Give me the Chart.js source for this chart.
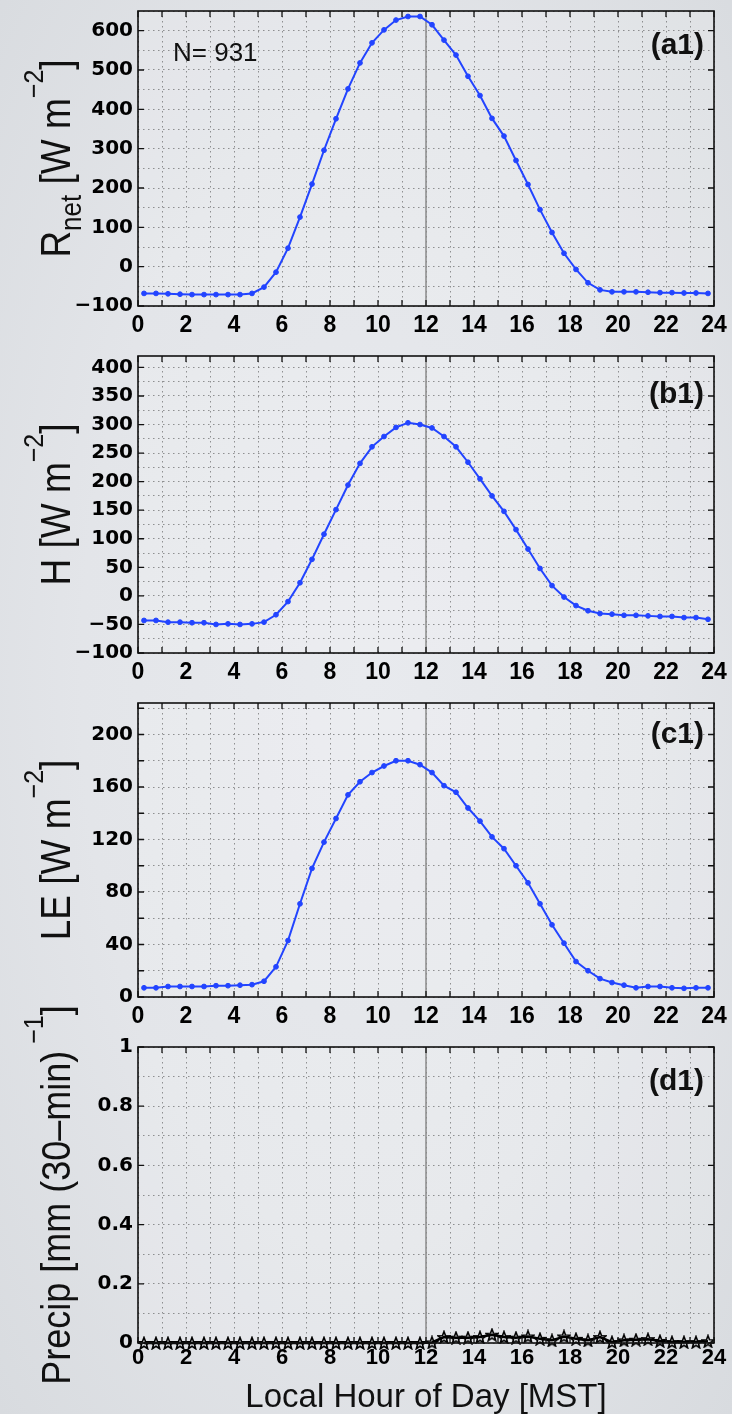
<!DOCTYPE html>
<html>
<head>
<meta charset="utf-8">
<script src="https://cdn.jsdelivr.net/npm/chart.js@4.4.0/dist/chart.umd.min.js"></script>
<style>
html,body{margin:0;padding:0;}
body{width:732px;height:1414px;overflow:hidden;position:relative;
  background:radial-gradient(ellipse at 50% 48%, #e8eaee 0%, #e3e5e9 55%, #d8dbdf 100%);}
.p{position:absolute;left:0;width:732px;}
</style>
</head>
<body>
<div class="p" style="top:0px;height:345px"><canvas id="ca"></canvas></div>
<div class="p" style="top:345px;height:347px"><canvas id="cb"></canvas></div>
<div class="p" style="top:692px;height:344px"><canvas id="cc"></canvas></div>
<div class="p" style="top:990px;height:424px"><canvas id="cd"></canvas></div>
<script>
// ---------------- DATA ----------------
const hours = [0.25,0.75,1.25,1.75,2.25,2.75,3.25,3.75,4.25,4.75,5.25,5.75,6.25,6.75,7.25,7.75,
  8.25,8.75,9.25,9.75,10.25,10.75,11.25,11.75,12.25,12.75,13.25,13.75,14.25,14.75,15.25,15.75,
  16.25,16.75,17.25,17.75,18.25,18.75,19.25,19.75,20.25,20.75,21.25,21.75,22.25,22.75,23.25,23.75];

const rnet = [-68,-68,-69,-70,-71,-71,-71,-71,-71,-68,-52,-14,47,126,210,296,376,452,518,
  569,602,627,636,636,615,576,538,484,435,377,332,270,209,145,87,34,-7,-41,-59,-64,-64,-64,-65,-66,-66,-67,-67,-68];

const sensibleH = [-43,-43,-46,-46,-47,-47,-50,-49,-50,-49,-46,-33,-10,23,64,108,151,194,232,
  261,279,295,303,300,294,279,261,234,205,175,148,116,82,48,18,-2,-17,-26,-31,-32,-34,-34,-35,-36,-36,-38,-38,-41];

const latentLE = [7,7,8,8,8,8,8.6,8.6,9,9.4,12,23,43,71,98,118,136,154,164,
  171,176,180,180,177,171,161,156,144,134,122,113,100,87,71,55,41,27,20,14,11,9,7,8,8,7,6.6,7,7];

const precip = [0,0,0,0,0,0,0,0,0,0,0,0,0,0,0,0,0,0,0,0,0,0,0,0,0.002,
  0.02,0.018,0.018,0.02,0.028,0.02,0.018,0.022,0.014,0.009,0.022,0.014,0.009,0.02,0.003,0.009,0.011,0.013,0.007,0.003,0.003,0.003,0.006];

const xTickLabels      = [0,2,4,6,8,10,12,14,16,18,20,22,24];
const rnetTickLabels   = [-100,0,100,200,300,400,500,600];
const hTickLabels      = [-100,-50,0,50,100,150,200,250,300,350,400];
const leTickLabels     = [0,40,80,120,160,200];
const leTickMarks      = [0,20,40,60,80,100,120,140,160,180,200,220];
const precipTickLabels = [0,0.2,0.4,0.6,0.8,1];
const sampleCount = 931;
const noonHour = 12;

// ---------------- STYLE ----------------
const blue = '#2244ff';
const gridColor = 'rgba(70,70,70,0.55)';
const plotBg = 'rgba(255,255,255,0.16)';
const FAM = '"Liberation Sans", Arial, sans-serif';

function has(arr, v){ return arr.some(a => Math.abs(a - v) < 1e-6); }
function fmt(v){ const s = String(Math.round(v*1000)/1000); return s.replace('-', '\u2212'); }

function pentagram(size){
  const c = document.createElement('canvas'); c.width = size; c.height = size;
  const g = c.getContext('2d');
  const cx = size/2, cy = size/2 + 0.7, R = size/2 - 0.8, r = R*0.42;
  g.beginPath();
  for (let i = 0; i < 10; i++){
    const ang = -Math.PI/2 + i*Math.PI/5, rr = (i % 2) ? r : R;
    const px = cx + rr*Math.cos(ang), py = cy + rr*Math.sin(ang);
    if (i) g.lineTo(px, py); else g.moveTo(px, py);
  }
  g.closePath(); g.strokeStyle = '#000'; g.lineWidth = 1.6; g.stroke();
  return c;
}

function drawRotTitle(ctx, segs, baseX, cy, stretch){
  ctx.save();
  ctx.translate(baseX, cy);
  ctx.rotate(-Math.PI/2);
  ctx.scale(1, stretch);
  ctx.fillStyle = '#111';
  ctx.textBaseline = 'alphabetic';
  ctx.textAlign = 'left';
  let total = 0;
  segs.forEach(s => { ctx.font = s.size + 'px ' + FAM; s.w = ctx.measureText(s.t).width; total += s.w; });
  let x = -total/2;
  segs.forEach(s => { ctx.font = s.size + 'px ' + FAM; ctx.fillText(s.t, x, s.dy||0); x += s.w; });
  ctx.restore();
}

function decoPlugin(p){
  return {
    id: 'deco',
    beforeDraw(chart){
      const a = chart.chartArea, ctx = chart.ctx;
      ctx.save(); ctx.fillStyle = plotBg;
      ctx.fillRect(a.left, a.top, a.right - a.left, a.bottom - a.top);
      ctx.restore();
    },
    beforeDatasetsDraw(chart){
      const a = chart.chartArea, ctx = chart.ctx;
      const x = chart.scales.x.getPixelForValue(noonHour);
      ctx.save(); ctx.strokeStyle = '#8a8a8a'; ctx.lineWidth = 1.5;
      ctx.beginPath(); ctx.moveTo(x, a.top); ctx.lineTo(x, a.bottom); ctx.stroke();
      ctx.restore();
    },
    afterDraw(chart){
      const a = chart.chartArea, ctx = chart.ctx, xs = chart.scales.x, ys = chart.scales.y;
      ctx.save();
      ctx.strokeStyle = '#111'; ctx.lineWidth = 1.3;
      ctx.beginPath();
      xs.ticks.forEach(t => {
        const x = xs.getPixelForValue(t.value);
        ctx.moveTo(x, a.bottom); ctx.lineTo(x, a.bottom - 6);
        ctx.moveTo(x, a.top); ctx.lineTo(x, a.top + 6);
      });
      ys.ticks.forEach(t => {
        if (!has(p.yTickMarks, t.value)) return;
        const y = ys.getPixelForValue(t.value);
        ctx.moveTo(a.left, y); ctx.lineTo(a.left + 6, y);
        ctx.moveTo(a.right, y); ctx.lineTo(a.right - 6, y);
      });
      ctx.stroke();
      ctx.lineWidth = 1.6; ctx.strokeStyle = '#111';
      ctx.strokeRect(a.left, a.top, a.right - a.left, a.bottom - a.top);
      ctx.fillStyle = '#111';
      ctx.font = 'bold 30px ' + FAM;
      ctx.textAlign = 'right'; ctx.textBaseline = 'alphabetic';
      ctx.fillText(p.panel, a.right - 10, a.top + p.panelDy);
      if (p.nText) {
        ctx.font = '26px ' + FAM; ctx.textAlign = 'left';
        ctx.fillText('N= ' + sampleCount, a.left + 35, a.top + 50);
      }
      if (p.xTitle) {
        ctx.font = '33px ' + FAM; ctx.textAlign = 'center';
        ctx.fillText(p.xTitle, (a.left + a.right)/2, a.bottom + 64);
      }
      ctx.restore();
      drawRotTitle(ctx, p.yTitle, 70, (a.top + a.bottom)/2, 1.13);
    }
  };
}

function makePanel(id, p){
  const ds = {
    data: hours.map((h, i) => ({x: h, y: p.values[i]})),
    borderColor: p.color, backgroundColor: p.color,
    borderWidth: p.lineWidth || 2,
    pointRadius: p.pointRadius || 2.4,
    pointStyle: p.pointStyle || 'circle',
    pointBorderWidth: p.pointBorderWidth || 1,
    pointHoverRadius: 0, tension: 0, clip: false, fill: false
  };
  return new Chart(document.getElementById(id), {
    type: 'line',
    data: { datasets: [ds] },
    options: {
      responsive: true, maintainAspectRatio: false, animation: false, events: [],
      devicePixelRatio: 1,
      layout: { padding: { top: p.padTop, right: 18, left: 0, bottom: 0 } },
      plugins: { legend: { display: false }, tooltip: { enabled: false } },
      scales: {
        x: {
          type: 'linear', min: 0, max: 24,
          ticks: { stepSize: 1, autoSkip: false, maxRotation: 0, includeBounds: false,
            padding: p.xPad, color: '#000',
            font: { family: FAM, size: p.xFont, weight: 'bold' },
            callback: v => has(xTickLabels, v) ? fmt(v) : '' },
          grid: { color: gridColor, lineWidth: 1, drawTicks: false },
          border: { display: false, dash: [1.5, 3.5] },
          afterFit: s => { s.height = p.xH; s.paddingLeft = 0; s.paddingRight = 0; }
        },
        y: {
          type: 'linear', min: p.yMin, max: p.yMax,
          ticks: { stepSize: p.gridStep, autoSkip: false, includeBounds: false,
            padding: 5, color: '#000',
            font: { family: '"DejaVu Sans", sans-serif', size: 20, weight: 'bold' },
            callback: v => has(p.labels, v) ? fmt(v) : '' },
          grid: { color: gridColor, lineWidth: 1, drawTicks: false },
          border: { display: false, dash: [1.5, 3.5] },
          afterFit: s => { s.width = 138; s.paddingTop = 0; s.paddingBottom = 0; }
        }
      }
    },
    plugins: [decoPlugin(p)]
  });
}

function wm2(){ return [{t:' [W m', size:37}, {t:'\u22122', size:25, dy:-24}, {t:']', size:37}]; }

makePanel('ca', { values: rnet, color: blue, yMin: -100, yMax: 650, gridStep: 50,
  labels: rnetTickLabels, yTickMarks: rnetTickLabels, padTop: 11, xH: 39, xPad: 6, xFont: 23,
  panel: '(a1)', panelDy: 43, nText: true,
  yTitle: [{t:'R', size:37}, {t:'net', size:26, dy:10}].concat(wm2()) });

makePanel('cb', { values: sensibleH, color: blue, yMin: -100, yMax: 420, gridStep: 25,
  labels: hTickLabels, yTickMarks: hTickLabels, padTop: 11, xH: 39, xPad: 6, xFont: 23,
  panel: '(b1)', panelDy: 47,
  yTitle: [{t:'H', size:37}].concat(wm2()) });

makePanel('cc', { values: latentLE, color: blue, yMin: 0, yMax: 224, gridStep: 20,
  labels: leTickLabels, yTickMarks: leTickMarks, padTop: 11, xH: 39, xPad: 6, xFont: 23,
  panel: '(c1)', panelDy: 40,
  yTitle: [{t:'LE', size:37}].concat(wm2()) });

makePanel('cd', { values: precip, color: '#000', yMin: 0, yMax: 1, gridStep: 0.1,
  labels: precipTickLabels, yTickMarks: precipTickLabels, padTop: 57, xH: 71, xPad: 2, xFont: 22,
  pointStyle: pentagram(14), pointRadius: 7, pointBorderWidth: 1, lineWidth: 2.5,
  panel: '(d1)', panelDy: 43, xTitle: 'Local Hour of Day [MST]',
  yTitle: [{t:'Precip [mm (30\u2013min)', size:36}, {t:' \u22121', size:25, dy:-24}, {t:']', size:36}] });
</script>
</body>
</html>
